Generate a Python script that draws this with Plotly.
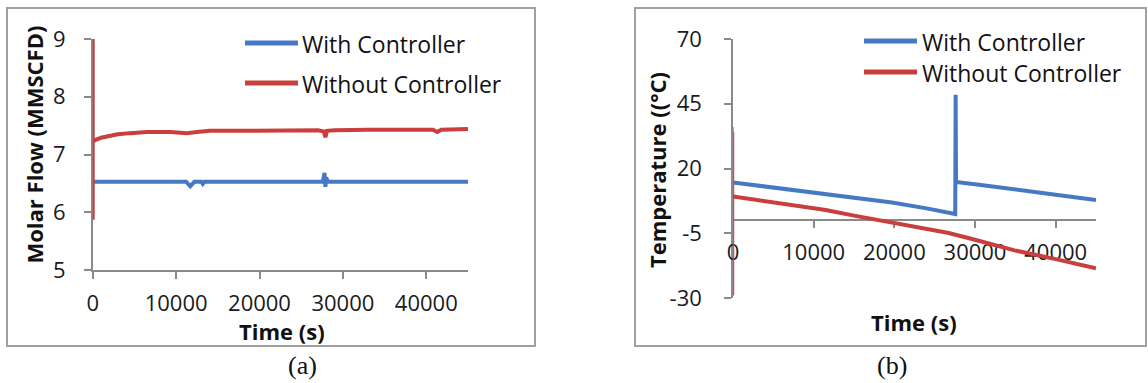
import plotly.graph_objects as go

# ---------------- data ----------------
# (a) molar flow
a_time_with = [0, 11200, 11700, 12200, 13000, 13200, 13400, 27600, 27800, 27900, 28000, 28200, 45000]
a_flow_with = [6.53, 6.53, 6.45, 6.53, 6.53, 6.49, 6.53, 6.53, 6.68, 6.44, 6.60, 6.53, 6.53]

a_time_without = [0, 0, 0, 300, 1000, 2000, 3000, 4500, 6500, 9300, 10500, 11300, 12500, 14000,
                  18000, 22000, 27000, 27700, 27900, 28100, 29000, 33000, 37000, 40800, 41300, 41800, 45000]
a_flow_without = [9.0, 5.87, 7.22, 7.25, 7.29, 7.32, 7.35, 7.37, 7.39, 7.39, 7.38, 7.37, 7.39, 7.41,
                  7.41, 7.42, 7.42, 7.40, 7.30, 7.41, 7.42, 7.43, 7.43, 7.43, 7.39, 7.43, 7.44]

# (b) temperature
b_time_with_start = [0, 0]
b_temp_with_start = [36, 14.6]
b_time_with = [0, 5000, 10000, 11500, 15000, 19700, 24000, 27550, 27600, 27650, 30000, 35000, 40000, 45000]
b_temp_with = [14.6, 12.7, 10.9, 10.3, 8.9, 6.9, 4.6, 2.4, 48.5, 14.8, 13.9, 12.0, 9.9, 7.8]

b_time_without_start = [0, 0, 0]
b_temp_without_start = [34, -29, 9.2]
b_time_without = [0, 5000, 10000, 11500, 15000, 19700, 24000, 26600, 30000, 34900, 40000, 45000]
b_temp_without = [9.2, 6.8, 4.6, 4.0, 1.8, -0.9, -3.4, -4.8, -7.5, -11.6, -15.0, -18.5]

x_ticks = [0, 10000, 20000, 30000, 40000]
x_tick_labels = ["0", "10000", "20000", "30000", "40000"]
a_y_ticks = [5, 6, 7, 8, 9]
a_y_tick_labels = ["5", "6", "7", "8", "9"]
b_y_ticks = [-30, -5, 20, 45, 70]
b_y_tick_labels = ["-30", "-5", "20", "45", "70"]

series_names = ["With Controller", "Without Controller"]

# ---------------- styling ----------------
W, H = 1148, 383
BLUE = "#4679C4"
RED = "#CA3E3E"
AXIS = "#8A8A8A"
FONT = "Open Sans"
TICKFONT = dict(family=FONT, size=22, color="#1a1a1a")


def px(x):
    return x / W


def py(y):
    return 1 - y / H


fig = go.Figure()

# (a)
fig.add_trace(go.Scatter(x=a_time_with, y=a_flow_with, mode="lines", name=series_names[0],
                         line=dict(color=BLUE, width=4), xaxis="x", yaxis="y", showlegend=False))
fig.add_trace(go.Scatter(x=a_time_without, y=a_flow_without, mode="lines", name=series_names[1],
                         line=dict(color=RED, width=4), xaxis="x", yaxis="y", showlegend=False))
# (b)
fig.add_trace(go.Scatter(x=b_time_with_start, y=b_temp_with_start, mode="lines",
                         line=dict(color="#8FA8DA", width=2), xaxis="x2", yaxis="y2", showlegend=False))
fig.add_trace(go.Scatter(x=b_time_with, y=b_temp_with, mode="lines", name=series_names[0],
                         line=dict(color=BLUE, width=4), xaxis="x2", yaxis="y2", showlegend=False))
fig.add_trace(go.Scatter(x=b_time_without_start, y=b_temp_without_start, mode="lines",
                         line=dict(color="#D9485E", width=2.5), xaxis="x2", yaxis="y2", showlegend=False))
fig.add_trace(go.Scatter(x=b_time_without, y=b_temp_without, mode="lines", name=series_names[1],
                         line=dict(color=RED, width=4), xaxis="x2", yaxis="y2", showlegend=False))

common_axis = dict(showgrid=False, zeroline=False, showline=True, linecolor=AXIS, linewidth=1.5,
                   ticks="outside", ticklen=7, tickcolor=AXIS, tickwidth=1.5, tickfont=TICKFONT,
                   automargin=False, layer="below traces")

y0_frac = py(298) + (py(39) - py(298)) * 0.3  # where temperature = 0 sits

fig.update_layout(
    width=W, height=H, autosize=False,
    margin=dict(l=0, r=0, t=0, b=0, pad=0, autoexpand=False),
    showlegend=False,
    paper_bgcolor="white", plot_bgcolor="rgba(0,0,0,0)",
    xaxis=dict(domain=[px(92.7), px(468)], range=[0, 45000], tickvals=x_ticks, ticktext=x_tick_labels,
               anchor="y", ticklabelstandoff=6, **common_axis),
    yaxis=dict(domain=[py(270), py(39)], range=[5, 9], tickvals=a_y_ticks, ticktext=a_y_tick_labels,
               anchor="x", ticklabelstandoff=14, **common_axis),
    xaxis2=dict(domain=[px(733), px(1096)], range=[0, 45000], tickvals=x_ticks, ticktext=x_tick_labels,
                anchor="free", position=y0_frac, ticklabelstandoff=6, **common_axis),
    yaxis2=dict(domain=[py(298), py(39)], range=[-30, 70], tickvals=b_y_ticks, ticktext=b_y_tick_labels,
                anchor="x2", ticklabelstandoff=18, **common_axis),
)

shapes = []
# panel frames
shapes.append(dict(type="rect", xref="paper", yref="paper", x0=px(7), x1=px(535), y0=py(346), y1=py(8),
                   line=dict(color="#A0A0A0", width=2), layer="below"))
shapes.append(dict(type="rect", xref="paper", yref="paper", x0=px(635), x1=px(1146), y0=py(346), y1=py(8),
                   line=dict(color="#A0A0A0", width=2), layer="below"))
# legend keys
legend_pos = [(245, 298, 300, [43, 83]), (864, 917, 920, [41, 72])]
annotations = []
for lx0, lx1, tx, ys in legend_pos:
    for color, yy, name in zip([BLUE, RED], ys, series_names):
        shapes.append(dict(type="line", xref="paper", yref="paper", x0=px(lx0), x1=px(lx1),
                           y0=py(yy), y1=py(yy), line=dict(color=color, width=5)))
        annotations.append(dict(xref="paper", yref="paper", x=px(tx), y=py(yy + 1), text=name,
                                showarrow=False, xanchor="left", yanchor="middle",
                                font=dict(family=FONT, size=23, color="#111")))

title_font = dict(family=FONT, size=22, color="#111", weight="bold")
annotations += [
    dict(xref="paper", yref="paper", x=px(33.5), y=py(145), text="<b>Molar Flow (MMSCFD)</b>",
         textangle=-90, showarrow=False, xanchor="center", yanchor="middle", font=title_font),
    dict(xref="paper", yref="paper", x=px(282), y=py(331), text="<b>Time (s)</b>",
         showarrow=False, xanchor="center", yanchor="middle", font=title_font),
    dict(xref="paper", yref="paper", x=px(657), y=py(170), text="<b>Temperature ((°C)</b>",
         textangle=-90, showarrow=False, xanchor="center", yanchor="middle", font=title_font),
    dict(xref="paper", yref="paper", x=px(914), y=py(322), text="<b>Time (s)</b>",
         showarrow=False, xanchor="center", yanchor="middle", font=title_font),
    dict(xref="paper", yref="paper", x=px(302), y=py(365), text="(a)",
         showarrow=False, xanchor="center", yanchor="middle",
         font=dict(family="Liberation Serif", size=26, color="#111")),
    dict(xref="paper", yref="paper", x=px(892), y=py(365), text="(b)",
         showarrow=False, xanchor="center", yanchor="middle",
         font=dict(family="Liberation Serif", size=26, color="#111")),
]

fig.update_layout(shapes=shapes, annotations=annotations)
fig.write_html("out.html", config={"displayModeBar": False},
               post_script="document.body.style.margin='0';document.body.style.overflow='hidden';")
